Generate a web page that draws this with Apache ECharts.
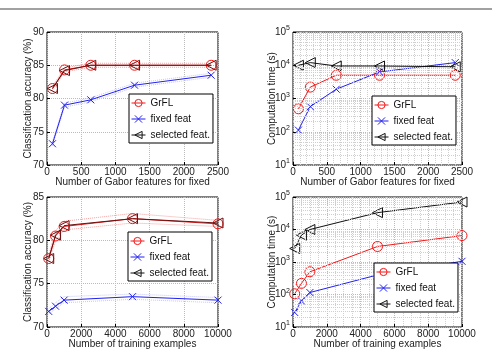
<!DOCTYPE html>
<html>
<head>
<meta charset="utf-8">
<script src="https://cdn.jsdelivr.net/npm/echarts@6/dist/echarts.min.js"></script>
<style>
  html, body { margin: 0; padding: 0; background: #fff; }
  #main { width: 492px; height: 353px; }
</style>
</head>
<body>
<div id="main"></div>
<script>
// x values
const xFeat = [80, 256, 640, 1280, 2400];
const xTrain = [100, 500, 1000, 5000, 10000];

// top-left: accuracy vs number of Gabor features
const accFeatGrFL = [81.5, 84.3, 85.0, 85.0, 85.0];
const accFeatFixed = [73.2, 79.0, 79.8, 82.0, 83.5];
const accFeatSel = [81.5, 84.2, 85.0, 85.0, 85.0];
const accFeatGrFLHi = [81.8, 84.6, 85.3, 85.3, 85.3];
const accFeatGrFLLo = [81.2, 84.0, 84.7, 84.7, 84.7];
const accFeatFixedHi = [73.5, 79.3, 80.1, 82.3, 83.8];
const accFeatFixedLo = [72.9, 78.7, 79.5, 81.7, 83.2];

// top-right: time vs number of Gabor features
const timeFeatGrFL = [490, 2200, 5000, 5000, 5000];
const timeFeatFixed = [112, 570, 1900, 6300, 12000];
const timeFeatSel = [10000, 12000, 9500, 9500, 9000];

// bottom-left: accuracy vs training examples
const accTrainGrFL = [77.9, 80.5, 81.6, 82.5, 81.9];
const accTrainFixed = [71.8, 72.4, 73.1, 73.5, 73.1];
const accTrainSel = [77.9, 80.6, 81.7, 82.5, 82.0];
const accTrainGrFLHi = [78.3, 81.1, 82.2, 83.1, 82.3];
const accTrainGrFLLo = [77.5, 80.0, 81.2, 82.0, 81.6];
const accTrainFixedHi = [72.1, 72.8, 73.5, 73.8, 73.4];
const accTrainFixedLo = [71.5, 72.1, 72.8, 73.2, 72.8];

// bottom-right: time vs training examples
const timeTrainGrFL = [105, 220, 500, 3000, 6500];
const timeTrainFixed = [28, 63, 115, 400, 1050];
const timeTrainSel = [2600, 6700, 10000, 33000, 70000];

// minor grid lines of the log axes (2..9 x 10^k)
const logMinor = [];
[10, 100, 1000, 10000].forEach((d) => {
  for (let m = 2; m <= 9; m++) logMinor.push(m * d);
});

const names = ["GrFL", "fixed feat", "selected feat."];

const RED = "#f01818";
const BLUE = "#2020f0";
const BLACK = "#111";
const FONT = "Liberation Sans, Arial, sans-serif";

const SYM_X = "path://M0,0L10,10M10,0L0,10";
const SYM_TRI = "path://M0,5L10,0L10,10Z";

const pairs = (xs, ys) => xs.map((x, i) => [x, ys[i]]);

function line(name, xs, ys, idx, color, symbol, size) {
  return {
    name: name,
    type: "line",
    xAxisIndex: idx,
    yAxisIndex: idx,
    data: pairs(xs, ys),
    symbol: symbol,
    symbolSize: size,
    showAllSymbol: true,
    lineStyle: { color: color, width: 1 },
    itemStyle: { color: "rgba(0,0,0,0)", borderColor: color, borderWidth: 1 },
    emphasis: { disabled: true },
    animation: false,
    z: 3,
  };
}

function band(xs, ys, idx, color) {
  return {
    type: "line",
    xAxisIndex: idx,
    yAxisIndex: idx,
    data: pairs(xs, ys),
    symbol: "none",
    silent: true,
    lineStyle: { color: color, width: 1, type: "dotted" },
    animation: false,
    z: 2,
  };
}

// empty series carrying the minor log grid
function minorGrid(idx) {
  return {
    type: "line",
    xAxisIndex: idx,
    yAxisIndex: idx,
    data: [],
    silent: true,
    z: 1,
    markLine: {
      silent: true,
      symbol: "none",
      label: { show: false },
      animation: false,
      lineStyle: { color: "#cfcfcf", width: 1, type: "dotted" },
      data: logMinor.map((v) => ({ yAxis: v })),
    },
  };
}

const grids = [
  { left: 47, top: 32, width: 171, height: 133 },
  { left: 293, top: 32, width: 169, height: 133 },
  { left: 47, top: 197, width: 171, height: 130 },
  { left: 293, top: 197, width: 169, height: 130 },
];

function xAx(idx, max, interval, label, minor) {
  return {
    type: "value",
    gridIndex: idx,
    min: 0,
    max: max,
    interval: interval,
    name: label,
    nameLocation: "middle",
    nameGap: 12,
    nameMoveOverlap: false,
    nameTextStyle: { fontFamily: FONT, fontSize: 10, color: "#222" },
    axisLine: { show: false },
    axisTick: { inside: true, length: 3, lineStyle: { color: "#000" } },
    axisLabel: { margin: 2, fontFamily: FONT, fontSize: 10, color: "#222", formatter: (v) => String(v) },
    splitLine: { show: true, lineStyle: { color: "#bbb", type: "dotted" } },
    minorTick: { show: false, splitNumber: minor || 5 },
    minorSplitLine: { show: !!minor, lineStyle: { color: "#cfcfcf", type: "dotted" } },
  };
}

function yLin(idx, min, max, label) {
  return {
    type: "value",
    gridIndex: idx,
    min: min,
    max: max,
    interval: 5,
    name: label,
    nameLocation: "middle",
    nameGap: 14,
    nameMoveOverlap: false,
    nameTextStyle: { fontFamily: FONT, fontSize: 10, color: "#222" },
    axisLine: { show: false },
    axisTick: { inside: true, length: 3, lineStyle: { color: "#000" } },
    axisLabel: { margin: 3, fontFamily: FONT, fontSize: 10, color: "#222" },
    splitLine: { show: true, lineStyle: { color: "#bbb", type: "dotted" } },
  };
}

function yLog(idx, label) {
  return {
    type: "log",
    logBase: 10,
    gridIndex: idx,
    min: 10,
    max: 100000,
    name: label,
    nameLocation: "middle",
    nameGap: 16,
    nameMoveOverlap: false,
    nameTextStyle: { fontFamily: FONT, fontSize: 10, color: "#222" },
    axisLine: { show: false },
    axisTick: { inside: true, length: 3, lineStyle: { color: "#000" } },
    axisLabel: {
      margin: 3,
      fontFamily: FONT,
      color: "#222",
      formatter: (v) => "{b|10}{s|" + Math.round(Math.log10(v)) + "}",
      rich: {
        b: { fontFamily: FONT, fontSize: 10, color: "#222" },
        s: { fontFamily: FONT, fontSize: 7, color: "#222", padding: [0, 0, 7, 0] },
      },
    },
    splitLine: { show: true, lineStyle: { color: "#bbb", type: "dotted" } },
  };
}

const legendItems = [
  { name: names[0], itemStyle: { color: "rgba(0,0,0,0)", borderColor: RED, borderWidth: 1 }, lineStyle: { color: RED, width: 1 } },
  { name: names[1], itemStyle: { color: "rgba(0,0,0,0)", borderColor: BLUE, borderWidth: 1 }, lineStyle: { color: BLUE, width: 1 } },
  { name: names[2], itemStyle: { color: "rgba(0,0,0,0)", borderColor: BLACK, borderWidth: 1 }, lineStyle: { color: BLACK, width: 1 } },
];

function legendAt(left, top) {
  return {
    data: legendItems,
    orient: "vertical",
    left: left,
    top: top,
    z: 20,
    itemWidth: 14,
    itemHeight: 9,
    itemGap: 6,
    padding: [4, 3, 3, 2],
    borderColor: "#000",
    borderWidth: 1,
    borderRadius: 0,
    backgroundColor: "#fff",
    selectedMode: false,
    textStyle: { fontFamily: FONT, fontSize: 10, color: "#111" },
  };
}

const option = {
  backgroundColor: "#fff",
  animation: false,
  grid: grids.map((g) => Object.assign({
    show: true, borderColor: "#000", borderWidth: 1, backgroundColor: "#fff",
  }, g)),
  xAxis: [
    xAx(0, 2500, 500, "Number of Gabor features for fixed"),
    xAx(1, 2500, 500, "Number of Gabor features for fixed", 5),
    xAx(2, 10000, 2000, "Number of training examples"),
    xAx(3, 10000, 2000, "Number of training examples", 4),
  ],
  yAxis: [
    yLin(0, 70, 90, "Classification accuracy (%)"),
    yLog(1, "Computation time (s)"),
    yLin(2, 70, 85, "Classification accuracy (%)"),
    yLog(3, "Computation time (s)"),
  ],
  legend: [
    legendAt(129, 94),
    legendAt(372, 96),
    legendAt(128, 232),
    legendAt(374, 263),
  ],
  graphic: [
    { type: "line", shape: { x1: 0, y1: 9, x2: 492, y2: 9 }, style: { stroke: "#444", lineWidth: 1.2 } },
  ],
  series: [
    band(xFeat, accFeatGrFLHi, 0, "#f4a0a0"),
    band(xFeat, accFeatGrFLLo, 0, "#f4a0a0"),
    band(xFeat, accFeatFixedHi, 0, "#c8c8f6"),
    band(xFeat, accFeatFixedLo, 0, "#c8c8f6"),
    line(names[0], xFeat, accFeatGrFL, 0, RED, "circle", 10),
    line(names[1], xFeat, accFeatFixed, 0, BLUE, SYM_X, 7),
    line(names[2], xFeat, accFeatSel, 0, "#6a1010", SYM_TRI, 10),

    minorGrid(1),
    line(names[0], xFeat, timeFeatGrFL, 1, RED, "circle", 10),
    line(names[1], xFeat, timeFeatFixed, 1, BLUE, SYM_X, 7),
    line(names[2], xFeat, timeFeatSel, 1, BLACK, SYM_TRI, 10),

    band(xTrain, accTrainGrFLHi, 2, "#f4a0a0"),
    band(xTrain, accTrainGrFLLo, 2, "#f4a0a0"),
    band(xTrain, accTrainFixedHi, 2, "#c8c8f6"),
    band(xTrain, accTrainFixedLo, 2, "#c8c8f6"),
    line(names[0], xTrain, accTrainGrFL, 2, RED, "circle", 10),
    line(names[1], xTrain, accTrainFixed, 2, BLUE, SYM_X, 7),
    line(names[2], xTrain, accTrainSel, 2, "#6a1010", SYM_TRI, 10),

    minorGrid(3),
    line(names[0], xTrain, timeTrainGrFL, 3, RED, "circle", 10),
    line(names[1], xTrain, timeTrainFixed, 3, BLUE, SYM_X, 7),
    line(names[2], xTrain, timeTrainSel, 3, BLACK, SYM_TRI, 10),
  ],
};

const chart = echarts.init(document.getElementById("main"), null, { renderer: "canvas" });
chart.setOption(option);
</script>
</body>
</html>
